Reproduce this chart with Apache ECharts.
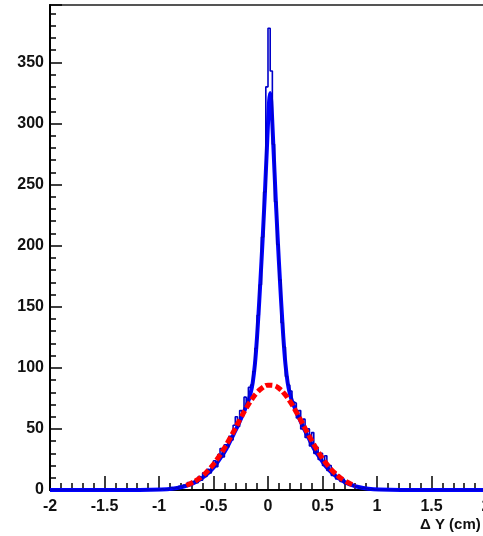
<!DOCTYPE html>
<html>
<head>
<meta charset="utf-8">
<script src="https://cdn.jsdelivr.net/npm/echarts@6/dist/echarts.min.js"></script>
<style>
  html, body { margin: 0; padding: 0; background: #fff; }
  #chartDeltaY { width: 483px; height: 536px; }
</style>
</head>
<body>
<div id="chartDeltaY"></div>
<script>
// histogram: bins of 0.02 from -1 to 1, outside is empty
var binLow = -1.0;
var binWidth = 0.02;
var binCounts = [
  0, 1, 0, 1, 0, 2, 1, 2, 1, 3,
  2, 4, 3, 6, 4, 7, 8, 6, 11, 8,
  14, 11, 17, 14, 20, 24, 19, 29, 34, 27,
  37, 35, 44, 41, 53, 60, 52, 65, 62, 76,
  70, 84, 86, 97, 116, 143, 168, 207, 244, 330,
  378, 343, 283, 236, 201, 172, 137, 117, 93, 86,
  81, 72, 71, 59, 65, 50, 58, 43, 50, 36,
  47, 30, 35, 25, 30, 20, 28, 16, 20, 12,
  15, 9, 12, 7, 9, 5, 6, 4, 5, 3,
  3, 2, 1, 2, 1, 1, 0, 1, 0, 0
];

// blue fit
var fitX = [-2, -1.18, -0.98, -0.88, -0.78, -0.73, -0.68, -0.63, -0.58, -0.53,
  -0.48, -0.43, -0.38, -0.33, -0.28, -0.23, -0.18, -0.16, -0.14, -0.12,
  -0.10, -0.08, -0.06, -0.05, -0.04, -0.03, -0.02, -0.01, 0.00, 0.01,
  0.02, 0.03, 0.04, 0.05, 0.06, 0.07, 0.08, 0.09, 0.10, 0.12,
  0.14, 0.16, 0.18, 0.20, 0.22, 0.27, 0.32, 0.37, 0.42, 0.47,
  0.52, 0.57, 0.62, 0.67, 0.72, 0.77, 0.82, 0.92, 1.02, 1.22, 2];
var fitY = [0, 0.05, 0.4, 1.1, 2.7, 4, 5.8, 8.3, 11.5, 15.5,
  20.5, 27, 34, 43, 52, 62, 73, 79, 88, 103,
  126, 155, 187, 204, 222, 240, 260, 280, 300, 318,
  325, 318, 300, 280, 260, 240, 222, 204, 187, 155,
  126, 103, 88, 79, 73, 62, 52, 43, 34, 27,
  20.5, 15.5, 11.5, 8.3, 5.8, 4, 2.7, 1.1, 0.4, 0.05, 0];

// red gaussian fit (dashed)
var gausX = [-0.75, -0.70, -0.65, -0.60, -0.55, -0.50, -0.45, -0.40, -0.35, -0.30,
  -0.25, -0.20, -0.15, -0.10, -0.05, 0.00, 0.05, 0.10, 0.15, 0.20,
  0.25, 0.30, 0.35, 0.40, 0.45, 0.50, 0.55, 0.60, 0.65, 0.70, 0.75, 0.80];
var gausY = [3.9, 5.8, 8.3, 11.6, 15.9, 21.1, 27.3, 34.3, 42.2, 50.5,
  58.9, 66.9, 74.0, 79.8, 83.8, 85.8, 85.6, 83.2, 78.8, 72.7,
  65.3, 57.2, 48.8, 40.6, 32.9, 25.9, 20.0, 15.0, 10.9, 7.8, 5.4, 3.6];

var xTicks = ['-2', '-1.5', '-1', '-0.5', '0', '0.5', '1', '1.5', '2'];

function pairs(xs, ys) {
  var out = [];
  for (var i = 0; i < xs.length; i++) out.push([xs[i], ys[i]]);
  return out;
}

var histData = [[-2, 0]];
for (var i = 0; i < binCounts.length; i++) {
  histData.push([+(binLow + binWidth * (i + 0.5)).toFixed(3), binCounts[i]]);
}
histData.push([2, 0]);

var labelFont = {
  color: '#111',
  fontFamily: 'Liberation Sans, Arial, sans-serif',
  fontSize: 16,
  fontWeight: 'bold'
};

var chartDeltaY = echarts.init(document.getElementById('chartDeltaY'));
chartDeltaY.setOption({
  animation: false,
  grid: {
    left: 50,
    top: 5,
    width: 436,
    bottom: 46,
    outerBoundsMode: 'none',
    containLabel: false,
    show: true,
    borderColor: '#555',
    borderWidth: 2,
    backgroundColor: 'transparent'
  },
  xAxis: {
    type: 'value',
    min: -2,
    max: 2,
    interval: 0.5,
    axisLine: { show: true, onZero: false, lineStyle: { color: '#000', width: 2 } },
    axisTick: { show: true, inside: true, length: 14, lineStyle: { color: '#000', width: 1.5 } },
    minorTick: { show: true, splitNumber: 5, length: 7, lineStyle: { color: '#000', width: 1.5 } },
    splitLine: { show: false },
    axisLabel: Object.assign({
      margin: 9,
      formatter: function (v) {
        var idx = Math.round((v + 2) / 0.5);
        return xTicks[idx] !== undefined ? xTicks[idx] : '';
      }
    }, labelFont)
  },
  yAxis: {
    type: 'value',
    min: 0,
    max: 397,
    interval: 50,
    axisLine: { show: true, onZero: false, lineStyle: { color: '#000', width: 2 } },
    axisTick: { show: true, inside: true, length: 12, lineStyle: { color: '#000', width: 1.5 } },
    minorTick: { show: true, splitNumber: 5, length: 6, lineStyle: { color: '#000', width: 1.5 } },
    splitLine: { show: false },
    axisLabel: Object.assign({ margin: 6, showMaxLabel: false }, labelFont)
  },
  graphic: [{
    type: 'text',
    left: 420,
    top: 517,
    style: {
      text: 'Δ Y (cm)',
      fill: '#111',
      font: 'bold 15px "Liberation Sans", Arial, sans-serif'
    }
  }],
  series: [
    {
      name: 'fit',
      type: 'line',
      data: pairs(fitX, fitY),
      showSymbol: false,
      smooth: 0.2,
      lineStyle: { color: '#0000ff', width: 4 },
      z: 2
    },
    {
      name: 'hist',
      type: 'line',
      step: 'middle',
      data: histData,
      showSymbol: false,
      lineStyle: { color: '#0000c8', width: 1.6 },
      z: 3
    },
    {
      name: 'gaus',
      type: 'line',
      data: pairs(gausX, gausY),
      showSymbol: false,
      smooth: true,
      lineStyle: { color: '#ff0000', width: 5, type: [7, 3] },
      z: 4
    }
  ]
});
</script>
</body>
</html>
